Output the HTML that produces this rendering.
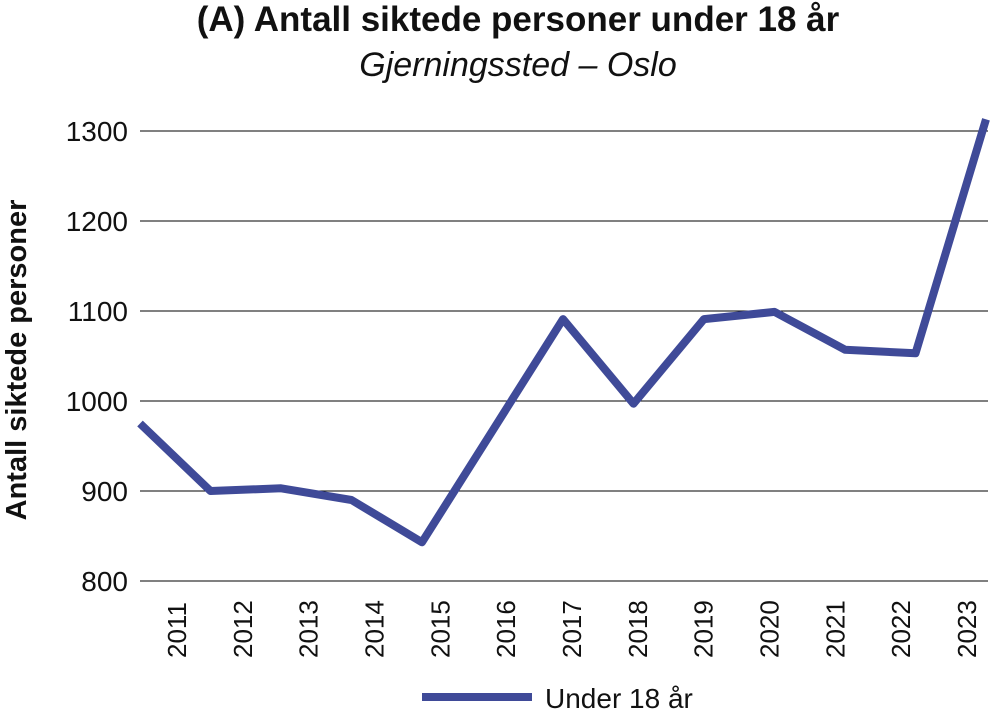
<!DOCTYPE html>
<html><head><meta charset="utf-8"><style>
body{margin:0;background:#fff;}
svg{display:block;font-family:"Liberation Sans",sans-serif;}
</style></head><body>
<svg width="997" height="719">
<text x="518" y="31" text-anchor="middle" font-size="35" font-weight="bold" fill="#111">(A) Antall siktede personer under 18 år</text>
<text x="518" y="76" text-anchor="middle" font-size="34" font-style="italic" fill="#111">Gjerningssted – Oslo</text>
<text transform="translate(26,360) rotate(-90)" text-anchor="middle" font-size="29" font-weight="bold" fill="#111">Antall siktede personer</text>
<g id="grid"></g><g id="yt"></g><g id="xt"></g>
<path id="ln" fill="none" stroke="#3f4a98" stroke-width="8" stroke-linejoin="round"/>
<line x1="422" y1="697" x2="532" y2="697" stroke="#3f4a98" stroke-width="8"/>
<text x="545" y="708" font-size="28" fill="#111">Under 18 år</text>
</svg>
<script>
const years=["2011","2012","2013","2014","2015","2016","2017","2018","2019","2020","2021","2022","2023"];
const values=[975,900,903,890,843,967,1091,997,1091,1099,1057,1053,1313];
const yTicks=[800,900,1000,1100,1200,1300];
const ns="http://www.w3.org/2000/svg";
const y=v=>581-(v-800)*0.9;
const x=i=>140+i*(986-140)/(years.length-1);
const lx=i=>176+i*(966-176)/(years.length-1);
const g=document.getElementById('grid'),yt=document.getElementById('yt'),xt=document.getElementById('xt');
yTicks.forEach(t=>{
 const l=document.createElementNS(ns,'line');
 l.setAttribute('x1',140);l.setAttribute('x2',988);l.setAttribute('y1',y(t));l.setAttribute('y2',y(t));
 l.setAttribute('stroke','#000');l.setAttribute('stroke-width','1');
 
 
 g.appendChild(l);
 const tx=document.createElementNS(ns,'text');
 tx.setAttribute('x',128);tx.setAttribute('y',y(t)+10);tx.setAttribute('text-anchor','end');
 tx.setAttribute('font-size','28');tx.setAttribute('fill','#111');tx.textContent=t;
 
 
 yt.appendChild(tx);
});
years.forEach((yr,i)=>{
 const tx=document.createElementNS(ns,'text');
 tx.setAttribute('transform',`translate(${lx(i)+10},658) rotate(-90)`);
 tx.setAttribute('font-size','26');tx.setAttribute('fill','#111');tx.textContent=yr;
 
 
 xt.appendChild(tx);
});
document.getElementById('ln').setAttribute('d',values.map((v,i)=>(i?'L':'M')+x(i)+','+y(v)).join(' '));
</script>
</body></html>
